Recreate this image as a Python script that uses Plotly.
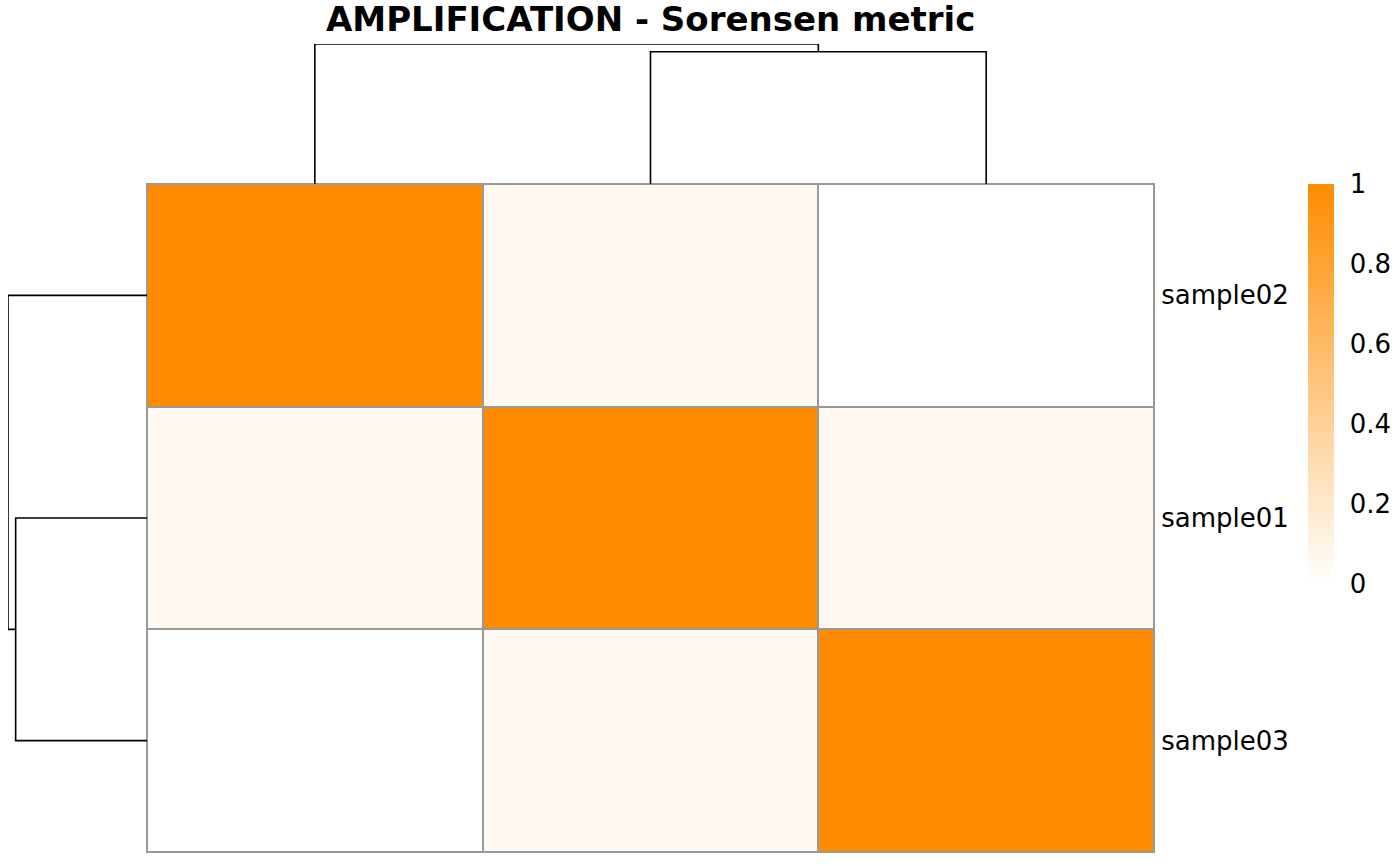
import plotly.graph_objects as go

# ---- data ----
samples = ["sample02", "sample01", "sample03"]          # row/column order (dendrogram leaf order)
values = [
    [1.00, 0.05, 0.00],
    [0.05, 1.00, 0.05],
    [0.00, 0.05, 1.00],
]
# hierarchical merges: (left member, right member, height); members >= len(samples) are earlier merges
merges = [
    (1, 2, 0.945),
    (0, 3, 1.00),
]
cbar_ticks = [0, 0.2, 0.4, 0.6, 0.8, 1]
cbar_text = ["0", "0.2", "0.4", "0.6", "0.8", "1"]
title = "AMPLIFICATION - Sorensen metric"

W, H = 1400, 866
FONT = "DejaVu Sans"


def dendro_segments(merges, n):
    pos = {i: float(i) for i in range(n)}
    hgt = {i: 0.0 for i in range(n)}
    xs, ys = [], []
    for k, (a, b, h) in enumerate(merges):
        xa, xb = pos[a], pos[b]
        xs += [xa, xa, xb, xb, None]
        ys += [hgt[a], h, h, hgt[b], None]
        pos[n + k] = (xa + xb) / 2
        hgt[n + k] = h
    return xs, ys


idx = list(range(len(samples)))
dx, dy = dendro_segments(merges, len(samples))

fig = go.Figure()

fig.add_trace(go.Heatmap(
    z=values, x=idx, y=idx,
    zmin=0, zmax=1,
    colorscale=[[0, "#FFFFFF"], [1, "#FF8C00"]],
    xgap=2, ygap=2,
    hoverinfo="skip",
    colorbar=dict(
        thickness=26, thicknessmode="pixels",
        len=400, lenmode="pixels",
        x=1308 / W, xanchor="left", xpad=0,
        y=1 - 184 / H, yanchor="top", ypad=0,
        outlinewidth=0,
        tickvals=cbar_ticks, ticktext=cbar_text,
        ticks="outside", ticklen=11, tickcolor="rgba(0,0,0,0)",
        tickfont=dict(family=FONT, size=26, color="black"),
    ),
))

# top (column) dendrogram
fig.add_trace(go.Scatter(
    x=dx, y=dy, xaxis="x2", yaxis="y2", mode="lines",
    line=dict(color="black", width=1.6), hoverinfo="skip", showlegend=False,
))
# left (row) dendrogram
fig.add_trace(go.Scatter(
    x=dy, y=dx, xaxis="x3", yaxis="y3", mode="lines",
    line=dict(color="black", width=1.6), hoverinfo="skip", showlegend=False,
))

hx = [147 / W, 1154 / W]
hy = [1 - 852 / H, 1 - 184 / H]
n = len(samples)

fig.update_layout(
    width=W, height=H,
    margin=dict(l=0, r=0, t=0, b=0),
    paper_bgcolor="white",
    plot_bgcolor="white",
    showlegend=False,
    xaxis=dict(domain=hx, range=[-0.5, n - 0.5], showticklabels=False, ticks="",
               showgrid=False, zeroline=False, showline=True, linecolor="#999999",
               linewidth=1, mirror=True),
    yaxis=dict(domain=hy, range=[n - 0.5, -0.5], side="right",
               tickvals=idx, ticktext=samples, ticks="", ticklabelstandoff=1,
               tickfont=dict(family=FONT, size=26, color="black"),
               showgrid=False, zeroline=False, showline=True, linecolor="#999999",
               linewidth=1, mirror=True),
    xaxis2=dict(domain=hx, range=[-0.5, n - 0.5], anchor="y2", visible=False),
    yaxis2=dict(domain=[1 - 184 / H, 1 - 44 / H], range=[0, 1], anchor="x2", visible=False),
    xaxis3=dict(domain=[8 / W, 147 / W], range=[1, 0], anchor="y3", visible=False),
    yaxis3=dict(domain=hy, range=[n - 0.5, -0.5], anchor="x3", visible=False),
    shapes=[dict(type="rect", xref="x domain", yref="y domain", x0=0, x1=1, y0=0, y1=1,
                 fillcolor="#999999", line=dict(width=0), layer="below")],
    annotations=[dict(
        text=f"<b>{title}</b>", x=650 / W, y=1 - 19 / H, xref="paper", yref="paper",
        xanchor="center", yanchor="middle", showarrow=False,
        font=dict(family=FONT, size=34, color="black"),
    )],
)

fig.write_html("out.html")
